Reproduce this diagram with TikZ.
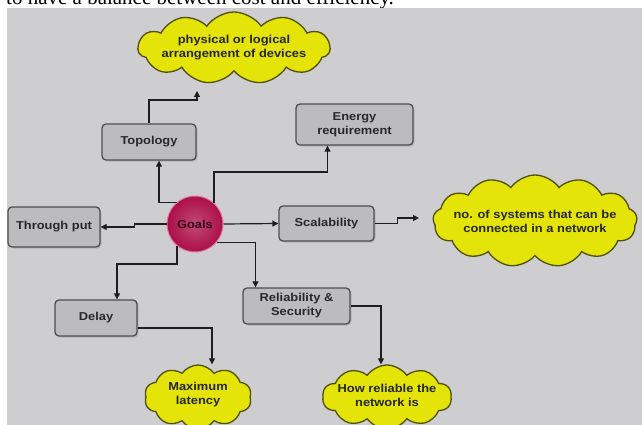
\documentclass[tikz,border=0pt]{standalone}
\usepackage{fontspec}
\setmainfont{Liberation Serif}
\newfontfamily\lblfont[FakeStretch=1.12]{Liberation Sans}
\usetikzlibrary{shapes.symbols,arrows.meta,shadows}

\definecolor{paper}{RGB}{206,206,208}
\definecolor{boxfill}{RGB}{188,188,190}
\definecolor{boxline}{RGB}{78,78,80}
\definecolor{cloudfill}{RGB}{228,228,8}
\definecolor{cloudline}{RGB}{80,80,10}
\definecolor{goalfill}{RGB}{172,14,72}
\definecolor{goalrim}{RGB}{222,120,160}
\definecolor{wire}{RGB}{30,30,30}
\definecolor{ink}{RGB}{40,40,40}

\tikzset{
  lbl/.style={font=\lblfont\bfseries\fontsize{11.5}{14}\selectfont, text=ink, align=center},
  itembox/.style={lbl, rectangle, rounded corners=4pt, draw=boxline, line width=1.3pt,
    fill=boxfill, inner sep=0pt,
    drop shadow={shadow xshift=1.5pt, shadow yshift=-1.5pt, opacity=0.35}},
  % cloud outline, sized by its own minimum width/height; its text is a node on top
  note/.style={cloud, cloud puffs=11, cloud puff arc=110, draw=cloudline,
    line width=1.3pt, fill=cloudfill, inner sep=0pt},
  notetext/.style={lbl, inner sep=0pt, text=black!85},
  hub/.style={lbl, circle, minimum size=56pt, inner sep=0pt, draw=goalrim, line width=1pt,
    inner color=goalfill!75!white, outer color=goalfill, text=black!70!goalfill},
  arr/.style={draw=wire, line width=1.2pt, -{Triangle[width=6pt,length=6pt]}}
}

\begin{document}
\begin{tikzpicture}[x=1pt,y=-1pt]
  \useasboundingbox (0,0) rectangle (642,425);
  \clip (0,0) rectangle (642,425);

  % tail of the preceding text line
  \begin{scope}
    \clip (0,0) rectangle (642,8);
    \node[anchor=base west, inner sep=0pt, font=\fontsize{21}{24}\selectfont] (caption)
      at (6,5) {to have a balance between cost and efficiency.};
  \end{scope}

  % grey canvas
  \fill[paper] (7,8) rectangle (642,425);

  % hub
  \node[hub] (g) at (195,224) {Goals};

  % goal boxes
  \node[itembox, minimum width=94pt, minimum height=36pt] (topo) at (149,142) {Topology};
  \node[itembox, minimum width=117pt, minimum height=41pt] (energy) at (354.5,124.5) {Energy\\requirement};
  \node[itembox, minimum width=92pt, minimum height=40pt] (tput) at (54,227) {Through put};
  \node[itembox, minimum width=95pt, minimum height=35pt] (scal) at (326.5,223.5) {Scalability};
  \node[itembox, minimum width=82pt, minimum height=36pt] (delay) at (96,318) {Delay};
  \node[itembox, minimum width=107pt, minimum height=36pt] (rel) at (296.5,306) {Reliability \&\\Security};

  % explanation clouds
  \node[note, minimum width=192pt, minimum height=72pt] (topnote) at (234,48) {};
  \node[notetext] (topnotetext) at (topnote.center) {physical or logical\\arrangement of devices};

  \node[note, cloud puffs=13, minimum width=204pt, minimum height=92pt] (scalnote) at (535,221) {};
  \node[notetext] (scalnotetext) at (scalnote.center) {no. of systems that can be\\connected in a network};

  \node[note, cloud puffs=10, minimum width=107pt, minimum height=64pt] (latnote) at (198,397) {};
  \node[notetext] (latnotetext) at ([yshift=2pt]latnote.center) {Maximum\\latency};

  \node[note, cloud puffs=10, minimum width=129pt, minimum height=64pt] (relnote) at (387,397) {};
  \node[notetext] (relnotetext) at ([yshift=2pt]relnote.center) {How reliable the\\network is};

  % arrow ends that stop short of their clouds
  \coordinate (topend) at (197,91);
  \coordinate (scalend) at (419,218);

  % connectors
  \draw[arr] (g.130) -| ([xshift=10pt]topo.south);
  \draw[arr] (g.48) -- (g.48 |- 0,172) -| ([xshift=-27pt]energy.south);
  \draw[arr] (g.west) -- ++(-32,0) |- (tput.east);
  \draw[arr] (g.east) -- (scal.west);
  \draw[arr] (g.231) -- (g.231 |- 0,264) -| ([xshift=21pt]delay.north);
  \draw[arr] (g.-40) -| ([xshift=-41pt]rel.north);

  \draw[arr] (topo.north) -- (topo.north |- 0,100) -| (topend);
  \draw[arr] (scal.east) -- ++(23,0) |- (scalend);
  \draw[arr] ([yshift=-10pt]delay.east) -| ([xshift=14pt]latnote.north);
  \draw[arr] (rel.east) -| ([xshift=-6pt]relnote.north);
\end{tikzpicture}
\end{document}
